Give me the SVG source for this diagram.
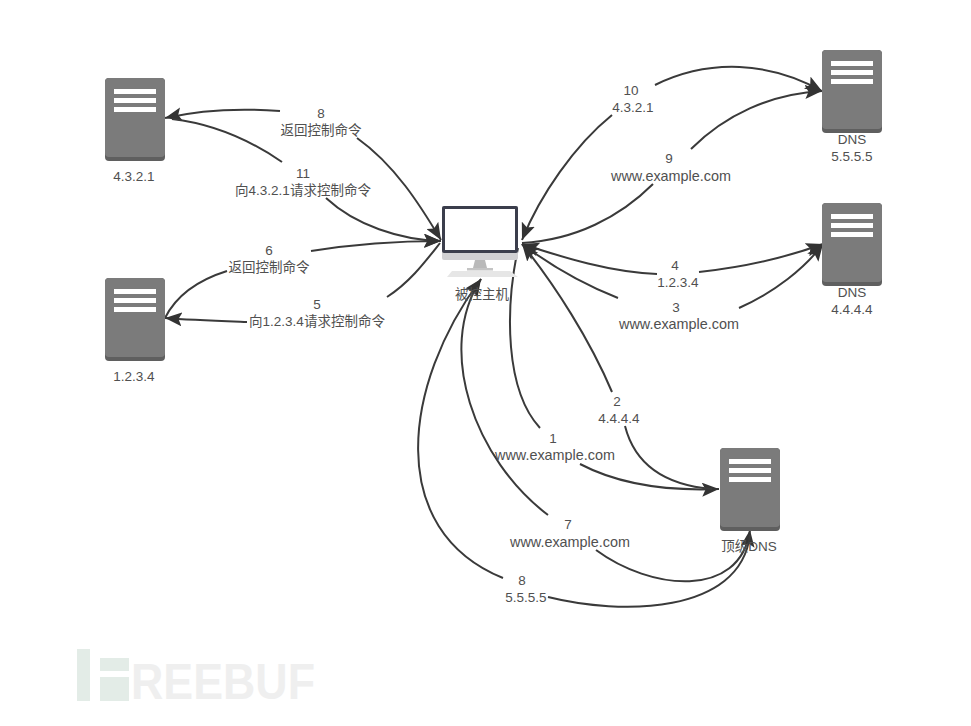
<svg xmlns="http://www.w3.org/2000/svg" width="971" height="726" viewBox="0 0 971 726">
<style>
.l{font-family:"Liberation Sans","Noto Sans CJK SC",sans-serif;font-size:13.5px;fill:#505050;text-anchor:middle}
.w{font-size:14.4px}
.c{fill:none;stroke:#3a3a3a;stroke-width:2}
.a{marker-end:url(#arrow)}
</style>
<defs>
<marker id="arrow" markerUnits="userSpaceOnUse" markerWidth="20" markerHeight="14" refX="17" refY="7" orient="auto"><path d="M0,0L17,7L0,14L3.500,7Z" fill="#333"/></marker>
<g id="server">
<rect x="0" y="0" width="60" height="83" rx="4" fill="#5f5f5f"/>
<rect x="0" y="0" width="60" height="79" rx="4" fill="#7b7b7b"/>
<rect x="9" y="11" width="42" height="5" fill="#fff"/>
<rect x="9" y="20" width="42" height="5" fill="#fff"/>
<rect x="9" y="29" width="42" height="5" fill="#fff"/>
</g>
</defs>
<rect width="971" height="726" fill="#fff"/>
<g id="watermark">
<rect x="77" y="649" width="13" height="52" fill="#e3ece7"/>
<rect x="100" y="658" width="29" height="13" fill="#e3ece7"/>
<rect x="100" y="677" width="29" height="24" fill="#e3ece7"/>
<text x="131" y="699" font-family="'Liberation Sans',sans-serif" font-weight="700" font-size="50" textLength="184" lengthAdjust="spacingAndGlyphs" fill="#efefef">REEBUF</text>
</g>
<g id="connectors">
<path class="c a" d="M280,111C240,108 200,110 165,118"/>
<path class="c" d="M282,162C250,140 215,124 172,119"/>
<path class="c a" d="M357,138C395,165 420,205 441,240"/>
<path class="c a" d="M326,198C355,225 400,240 441,241"/>
<path class="c a" d="M311,251C355,244 400,241 441,241"/>
<path class="c" d="M387,297C410,282 425,262 440,243"/>
<path class="c" d="M227,271C195,281 175,298 165,318"/>
<path class="c a" d="M247,322C220,321 190,320 165,318"/>
<path class="c a" d="M655,85C710,58 770,62 822,91"/>
<path class="c a" d="M691,149C725,115 770,94 822,91"/>
<path class="c a" d="M612,115C575,145 540,195 522,240"/>
<path class="c" d="M653,184C620,217 575,240 522,243"/>
<path class="c a" d="M699,272C745,267 790,256 823,244"/>
<path class="c a" d="M739,308C775,292 805,268 823,244"/>
<path class="c a" d="M657,274C610,272 565,258 522,244"/>
<path class="c a" d="M618,298C585,285 550,265 522,244"/>
<path class="c a" d="M612,392C590,340 555,285 522,244"/>
<path class="c" d="M540,428C505,390 505,310 518,248"/>
<path class="c a" d="M580,464C620,485 670,491 719,489"/>
<path class="c" d="M625,426C635,465 665,485 712,489"/>
<path class="c a" d="M548,515C475,460 435,350 481,279"/>
<path class="c a" d="M503,578C385,530 402,385 481,279"/>
<path class="c a" d="M596,550C650,590 740,600 750,530"/>
<path class="c" d="M548,597C620,615 740,615 750,535"/>
</g>
<g id="node-4321"><use href="#server" x="105" y="78"/><text class="l" x="134" y="181">4.3.2.1</text></g>
<g id="node-1234"><use href="#server" x="105" y="278"/><text class="l" x="134" y="381">1.2.3.4</text></g>
<g id="node-dns5"><use href="#server" x="822" y="50"/><text class="l" x="852" y="144">DNS</text><text class="l" x="852" y="161">5.5.5.5</text></g>
<g id="node-dns4"><use href="#server" x="822" y="203"/><text class="l" x="852" y="297">DNS</text><text class="l" x="852" y="314">4.4.4.4</text></g>
<g id="node-top"><use href="#server" x="720" y="448"/><text class="l" x="749" y="551">顶级DNS</text></g>
<g id="node-host">
<rect x="442" y="206" width="76" height="54" rx="2" fill="#d0d0d2"/>
<rect x="442" y="206" width="76" height="47" rx="2" fill="#3b3e4c"/>
<rect x="445" y="209" width="70" height="41" fill="#fff"/>
<path d="M475,260H485L487,268H473Z" fill="#b9b9b9"/>
<rect x="467" y="268" width="26" height="2.500" fill="#c4c4c4"/>
<path d="M452,271H510L518,277H447Z" fill="#e6e6e6"/>
<text class="l" x="482" y="299">被控主机</text>
</g>
<g id="labels">
<text class="l" x="321" y="118">8</text><text class="l" x="321" y="135">返回控制命令</text>
<text class="l" x="303" y="178">11</text><text class="l" x="303" y="195">向4.3.2.1请求控制命令</text>
<text class="l" x="269" y="255">6</text><text class="l" x="269" y="272">返回控制命令</text>
<text class="l" x="317" y="309">5</text><text class="l" x="317" y="326">向1.2.3.4请求控制命令</text>
<text class="l" x="631" y="95">10</text><text class="l" x="633" y="112">4.3.2.1</text>
<text class="l" x="669" y="163">9</text><text class="l" x="671" y="181" style="font-size:14.4px">www.example.com</text>
<text class="l" x="675" y="270">4</text><text class="l" x="678" y="287">1.2.3.4</text>
<text class="l" x="676" y="312">3</text><text class="l w" x="679" y="329">www.example.com</text>
<text class="l" x="617" y="406">2</text><text class="l" x="619" y="423">4.4.4.4</text>
<text class="l" x="553" y="443">1</text><text class="l w" x="555" y="460">www.example.com</text>
<text class="l" x="568" y="529">7</text><text class="l w" x="570" y="547">www.example.com</text>
<text class="l" x="522" y="585">8</text><text class="l" x="526" y="602">5.5.5.5</text>
</g>
</svg>
